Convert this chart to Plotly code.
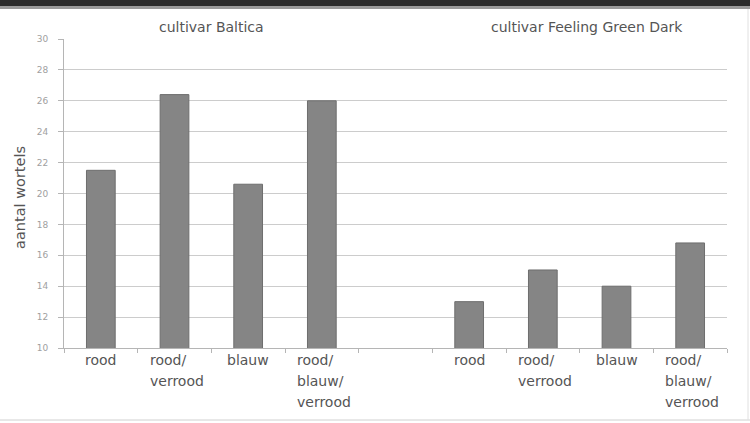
import plotly.graph_objects as go

# Data
groups = ["cultivar Baltica", "cultivar Feeling Green Dark"]
categories = ["rood", "rood/verrood", "blauw", "rood/blauw/verrood"]
baltica = [21.5, 26.4, 20.6, 26.0]
feeling_green_dark = [13.0, 15.05, 14.0, 16.8]
y_ticks = [10, 12, 14, 16, 18, 20, 22, 24, 26, 28, 30]
y_title = "aantal wortels"

W, H = 750, 423
M = dict(l=64, r=23, t=39, b=75)
pw = W - M["l"] - M["r"]
ph = H - M["t"] - M["b"]

# slot layout: 4 bars, an empty slot, 4 bars
xs_a = list(range(len(categories)))
xs_b = [len(categories) + 1 + i for i in range(len(categories))]
xs = xs_a + xs_b
vals = baltica + feeling_green_dark
labels = categories + categories

bar_color = "#858585"
fig = go.Figure()
fig.add_trace(go.Bar(
    x=xs, y=vals, width=0.39,
    marker=dict(color=bar_color, line=dict(color="#6e6e6e", width=1)),
    showlegend=False, hoverinfo="y",
))

font = "DejaVu Sans, sans-serif"
annotations = []
# category labels, one line per segment
for x, lab in zip(xs, labels):
    parts = lab.split("/")
    lines = [p + "/" for p in parts[:-1]] + [parts[-1]]
    for k, line in enumerate(lines):
        multi = len(lines) > 1
        annotations.append(dict(
            x=x, xref="x", y=0, yref="paper", yanchor="top",
            xanchor="left" if multi else "center",
            xshift=-27 if multi else 0,
            yshift=-2 - 21 * k,
            text=line, showarrow=False,
            font=dict(family=font, size=14, color="#555555"),
        ))

# group titles
centers = [sum(xs_a) / len(xs_a), sum(xs_b) / len(xs_b) + 0.1]
for c, g in zip(centers, groups):
    annotations.append(dict(
        x=c, xref="x", y=1 + 12 / ph, yref="paper", yanchor="middle",
        text=g, showarrow=False,
        font=dict(family=font, size=14, color="#555555"),
    ))

# vertical axis title
annotations.append(dict(
    x=-(M["l"] - 20) / pw, xref="paper", y=(150 / ph), yref="paper",
    xanchor="center", yanchor="middle", textangle=-90,
    text=y_title, showarrow=False,
    font=dict(family=font, size=14.5, color="#555555"),
))

shapes = [
    # dark band along the top edge
    dict(type="rect", xref="paper", yref="paper",
         x0=-M["l"] / pw, x1=1 + M["r"] / pw,
         y0=1 + (M["t"] - 6) / ph, y1=1 + M["t"] / ph,
         fillcolor="#2b2b2b", line=dict(width=0), layer="above"),
    dict(type="rect", xref="paper", yref="paper",
         x0=-M["l"] / pw, x1=1 + M["r"] / pw,
         y0=1 + (M["t"] - 9) / ph, y1=1 + (M["t"] - 6) / ph,
         fillcolor="#9a9a9a", line=dict(width=0), layer="above"),
    # light frame lines at bottom and right
    dict(type="line", xref="paper", yref="paper",
         x0=-M["l"] / pw, x1=1 + M["r"] / pw,
         y0=-(420 - (M["t"] + ph)) / ph, y1=-(420 - (M["t"] + ph)) / ph,
         line=dict(color="#d0d0d0", width=1)),
    dict(type="line", xref="paper", yref="paper",
         x0=1 + 21 / pw, x1=1 + 21 / pw,
         y0=-(420 - (M["t"] + ph)) / ph, y1=1 + (M["t"] - 9) / ph,
         line=dict(color="#e0e0e0", width=1)),
]

fig.update_layout(
    width=W, height=H, margin=dict(**M, pad=0),
    paper_bgcolor="white", plot_bgcolor="white",
    font=dict(family=font, color="#555555"),
    annotations=annotations, shapes=shapes,
    bargap=0.6,
    xaxis=dict(
        range=[-0.5, len(xs) + 0.5], tickvals=xs, showticklabels=False,
        ticks="", showgrid=False, zeroline=False,
        showline=True, linecolor="#b5b5b5", linewidth=1,
        minor=dict(ticks="outside", tick0=-0.5, dtick=1, ticklen=4,
                   tickcolor="#b5b5b5", showgrid=False),
    ),
    yaxis=dict(
        range=[10, 30], tickvals=y_ticks,
        tickfont=dict(size=9, color="#a0a0a0"),
        ticks="outside", ticklen=5, tickcolor="#b5b5b5",
        ticklabelstandoff=8,
        showgrid=True, gridcolor="#cccccc", gridwidth=1,
        showline=True, linecolor="#b5b5b5", linewidth=1, zeroline=False,
    ),
)

fig.write_html("out.html")
